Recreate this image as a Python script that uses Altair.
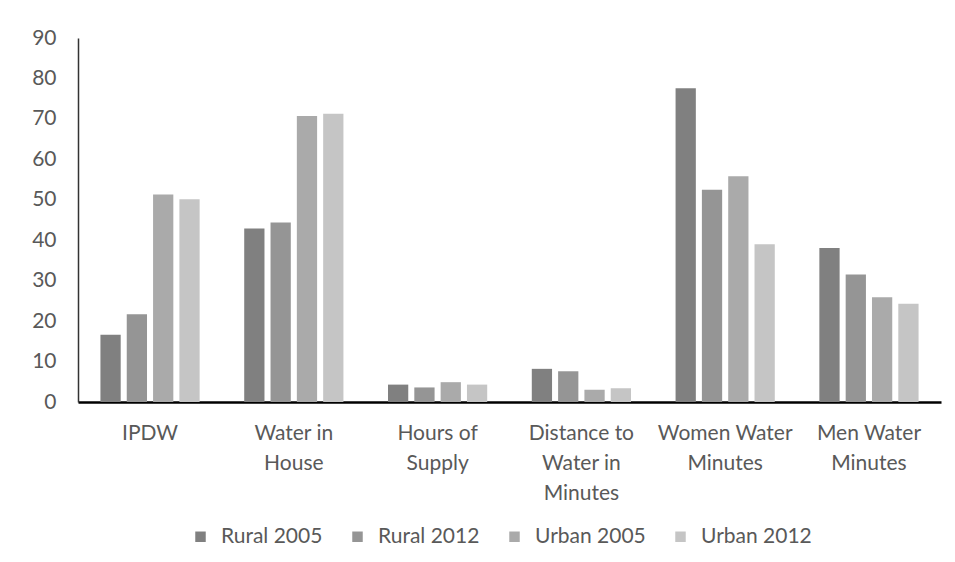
import altair as alt
import pandas as pd

categories = ["IPDW", "Water in|House", "Hours of|Supply", "Distance to|Water in|Minutes",
              "Women Water|Minutes", "Men Water|Minutes"]
series_names = ["Rural 2005", "Rural 2012", "Urban 2005", "Urban 2012"]
rural_2005 = [16.6, 42.9, 4.3, 8.2, 77.6, 38.1]
rural_2012 = [21.7, 44.4, 3.6, 7.6, 52.5, 31.5]
urban_2005 = [51.3, 70.7, 4.9, 3.0, 55.8, 25.9]
urban_2012 = [50.1, 71.3, 4.3, 3.4, 39.0, 24.3]
colors = ["#808080", "#959595", "#aaaaaa", "#c5c5c5"]
y_ticks = [0, 10, 20, 30, 40, 50, 60, 70, 80, 90]

rows = []
for name, vals in zip(series_names, [rural_2005, rural_2012, urban_2005, urban_2012]):
    for c, v in zip(categories, vals):
        rows.append({"category": c, "series": name, "value": v})
df = pd.DataFrame(rows)

FONT = "Lato"
TXT = "#595959"

chart = alt.Chart(df).mark_bar().encode(
    x=alt.X("category:N", sort=categories, title=None,
            scale=alt.Scale(paddingInner=0.31, paddingOuter=0.156),
            axis=alt.Axis(labelExpr="split(datum.label, '|')", labelAngle=0,
                          labelFont=FONT, labelFontSize=21, labelColor=TXT,
                          labelLineHeight=30, labelPadding=20, ticks=False,
                          domainColor="#000000", domainWidth=2.5, labelLimit=200)),
    xOffset=alt.XOffset("series:N", sort=series_names,
                        scale=alt.Scale(paddingInner=0.23, paddingOuter=0)),
    y=alt.Y("value:Q", title=None,
            scale=alt.Scale(domain=[0, 90], nice=False),
            axis=alt.Axis(values=y_ticks, grid=False, ticks=False,
                          labelFont=FONT, labelFontSize=21, labelColor=TXT,
                          labelPadding=22, domainColor="#333333", domainWidth=1.5)),
    color=alt.Color("series:N", sort=series_names,
                    scale=alt.Scale(domain=series_names, range=colors),
                    legend=alt.Legend(title=None, orient="none", direction="horizontal",
                                      legendX=112, legendY=488, symbolType="square",
                                      symbolSize=110, symbolStrokeWidth=0,
                                      labelFont=FONT, labelFontSize=21, labelColor=TXT,
                                      labelOffset=10, columnPadding=24, padding=0)),
).properties(
    width=863, height=364,
    background="#ffffff",
    autosize=alt.AutoSizeParams(type="none"),
    padding={"left": 70, "top": 30, "right": 6, "bottom": 152},
).configure_view(stroke=None)

chart.save("out.html", embed_options={"renderer": "svg", "actions": False})
